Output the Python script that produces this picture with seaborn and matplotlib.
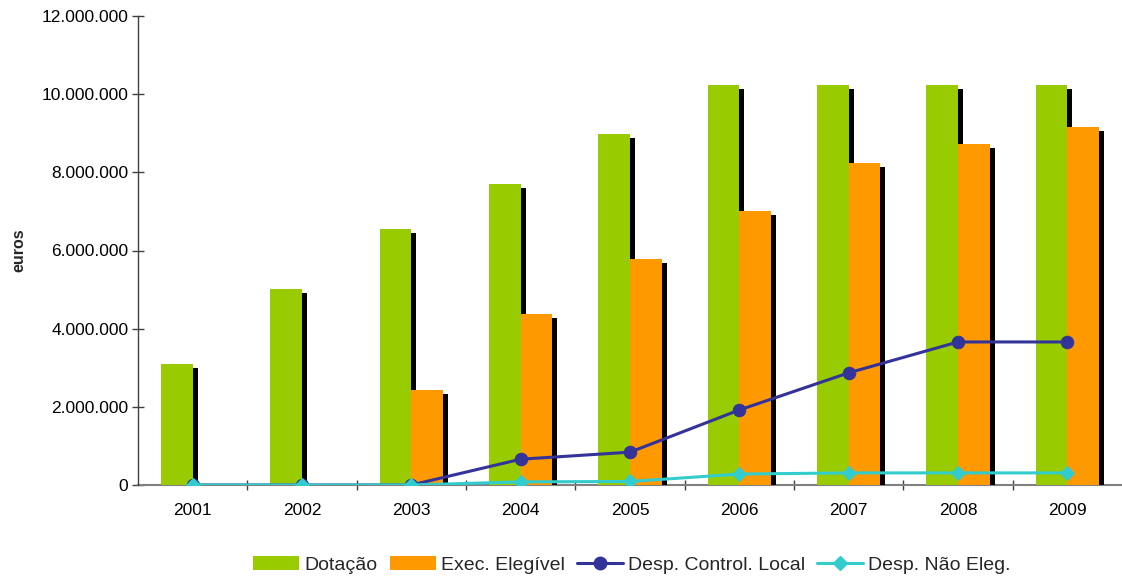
import numpy as np
import pandas as pd
import matplotlib
matplotlib.use("Agg")
import matplotlib.pyplot as plt
import matplotlib.transforms as mtransforms
from matplotlib.patches import Rectangle, Patch
from matplotlib.lines import Line2D
from matplotlib.ticker import FuncFormatter, FixedLocator
import seaborn as sns

# Annual data (euros)
anos = ["2001", "2002", "2003", "2004", "2005", "2006", "2007", "2008", "2009"]
dotacao = [3100000, 5020000, 6550000, 7700000, 8980000, 10240000, 10240000, 10240000, 10240000]
exec_elegivel = [0, 0, 2430000, 4380000, 5780000, 7010000, 8240000, 8730000, 9160000]
desp_control_local = [0, 0, 0, 660000, 840000, 1920000, 2870000, 3660000, 3660000]
desp_nao_eleg = [0, 0, 0, 80000, 90000, 280000, 310000, 310000, 310000]

serie_barras = ["Dotação", "Exec. Elegível"]
cores_barras = ["#99CC00", "#FF9900"]
cor_local = "#333399"
cor_nao_eleg = "#33CCCC"
y_ticks = [0, 2000000, 4000000, 6000000, 8000000, 10000000, 12000000]

sns.set_theme(style="white")
plt.rcParams["font.family"] = ["Liberation Sans", "DejaVu Sans"]

df = pd.DataFrame({
    "ano": anos * 2,
    "serie": [serie_barras[0]] * len(anos) + [serie_barras[1]] * len(anos),
    "valor": dotacao + exec_elegivel,
})

fig = plt.figure(figsize=(11.22, 5.78), dpi=100)
ax = fig.add_axes([138 / 1122, 1 - 485 / 578, 1 - 138 / 1122, (485 - 16) / 578])

sns.barplot(data=df, x="ano", y="valor", hue="serie", palette=cores_barras,
            width=0.58, gap=0, saturation=1, errorbar=None, legend=False,
            ax=ax, zorder=3)

# Drop shadow behind each column: same rectangle shifted right and down
shadow_tf = mtransforms.offset_copy(ax.transData, fig=fig, x=5, y=-4, units="dots")
for bar in list(ax.patches):
    h = bar.get_height()
    if h <= 0:
        continue
    bar.set_edgecolor("none")
    ax.add_patch(Rectangle((bar.get_x(), 0), bar.get_width(), h,
                           transform=shadow_tf, facecolor="black",
                           edgecolor="none", zorder=2, clip_on=True))

x_pos = np.arange(len(anos))
sns.lineplot(x=x_pos, y=desp_control_local, color=cor_local, linewidth=2.2,
             marker="o", markersize=9, markeredgecolor=cor_local,
             ax=ax, zorder=5)
sns.lineplot(x=x_pos, y=desp_nao_eleg, color=cor_nao_eleg, linewidth=2.2,
             marker="D", markersize=7, markeredgecolor=cor_nao_eleg,
             ax=ax, zorder=6)

ax.set_xlim(-0.5, len(anos) - 0.5)
ax.set_ylim(0, 12000000)
ax.yaxis.set_major_locator(FixedLocator(y_ticks))
ax.yaxis.set_major_formatter(FuncFormatter(lambda v, p: f"{int(v):,}".replace(",", ".")))

ax.set_xticks(x_pos)
ax.set_xticklabels(anos)
ax.set_xticks(np.arange(0.5, len(anos) - 0.5, 1.0), minor=True)
ax.tick_params(axis="x", which="major", length=0, pad=13, labelsize=12.5, colors="black")
ax.tick_params(axis="x", which="minor", direction="inout", length=7, width=1,
               color="#404040", bottom=True)
ax.tick_params(axis="y", which="major", direction="inout", length=8, width=1,
               color="#404040", pad=3, labelsize=12.5, labelcolor="black", left=True)

for side in ["top", "right"]:
    ax.spines[side].set_visible(False)
ax.spines["left"].set_color("#404040")
ax.spines["left"].set_linewidth(1.0)
ax.spines["bottom"].set_color("#808080")
ax.spines["bottom"].set_linewidth(1.5)
ax.spines["bottom"].set_zorder(1)

ax.set_xlabel("")
ax.set_ylabel("euros", fontsize=11.5, fontweight="bold", labelpad=11)
ax.grid(False)

handles = [
    Patch(facecolor=cores_barras[0], edgecolor="none", label=serie_barras[0]),
    Patch(facecolor=cores_barras[1], edgecolor="none", label=serie_barras[1]),
    Line2D([], [], color=cor_local, linewidth=2.2, marker="o", markersize=9,
           label="Desp. Control. Local"),
    Line2D([], [], color=cor_nao_eleg, linewidth=2.2, marker="D", markersize=7,
           label="Desp. Não Eleg."),
]
fig.legend(handles=handles, loc="center", bbox_to_anchor=(632 / 1122, 1 - 565 / 578),
           ncol=4, frameon=False, fontsize=14, handlelength=2.37, handleheight=0.72,
           handletextpad=0.26, columnspacing=0.62, borderaxespad=0)

fig.savefig("out.png", dpi=100)
